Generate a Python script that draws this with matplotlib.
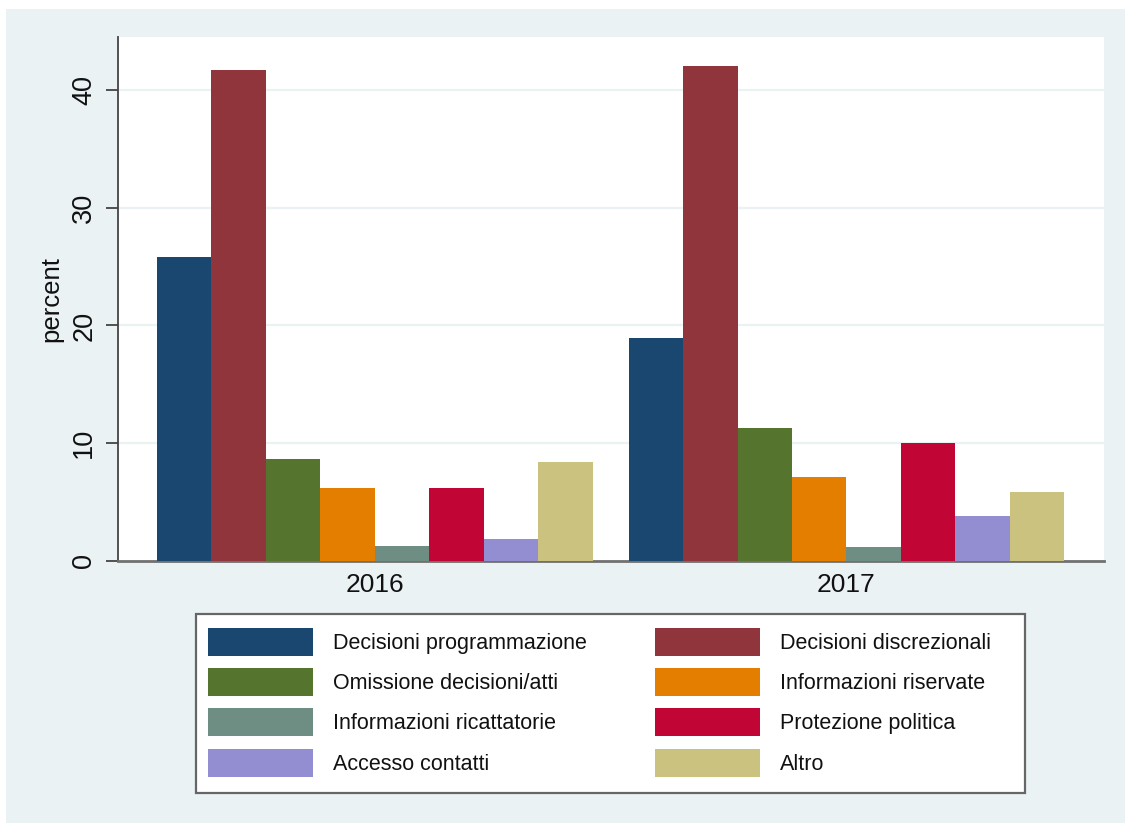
import matplotlib
matplotlib.use("Agg")
import matplotlib.pyplot as plt
from matplotlib.patches import Patch, Rectangle
import numpy as np

plt.rcParams['font.family'] = ['Liberation Sans', 'DejaVu Sans']

years = ["2016", "2017"]
categories = [
    "Decisioni programmazione", "Decisioni discrezionali",
    "Omissione decisioni/atti", "Informazioni riservate",
    "Informazioni ricattatorie", "Protezione politica",
    "Accesso contatti", "Altro",
]
values_2016 = [25.8, 41.7, 8.7, 6.2, 1.3, 6.2, 1.9, 8.4]
values_2017 = [18.9, 42.0, 11.3, 7.1, 1.2, 10.0, 3.8, 5.9]
colors = ["#1A476F", "#90353B", "#55752F", "#E37E00",
          "#6E8E84", "#C10534", "#938DD2", "#CAC27E"]
yticks = [0, 10, 20, 30, 40]

W, H = 1125, 823
fig = plt.figure(figsize=(W / 100, H / 100), dpi=100, facecolor="white")
bg = "#EAF2F3"
fig.patches.append(Rectangle((6 / W, 0), 1, 1 - 9 / H, transform=fig.transFigure,
                             facecolor=bg, edgecolor="none", zorder=-10))

ax = fig.add_axes([118 / W, 1 - 561 / H, (1104 - 118) / W, (561 - 37) / H])
ax.set_facecolor("white")

n = len(categories)
group_offset = 8.66
for gi, vals in enumerate([values_2016, values_2017]):
    xs = np.arange(n) + gi * group_offset
    ax.bar(xs, vals, width=1.0, color=colors, edgecolor="none", zorder=3)

ax.set_xlim(-1.216, 16.89)
ax.set_ylim(0, 44.5)
ax.set_xticks([(n - 1) / 2 + gi * group_offset for gi in range(len(years))])
ax.set_xticklabels(years, fontsize=19)
ax.tick_params(axis="x", length=0, pad=9, colors="#111111")
ax.set_yticks(yticks)
ax.set_yticklabels([str(t) for t in yticks], fontsize=19.5, rotation=90, va="center")
ax.tick_params(axis="y", length=9, width=1.3, pad=6, color="#444444", labelcolor="#111111")
ax.set_ylabel("percent", fontsize=18.5, labelpad=6, color="#111111")

for y in yticks[1:]:
    ax.axhline(y, color=bg, linewidth=1.6, zorder=1)

for s in ["top", "right"]:
    ax.spines[s].set_visible(False)
ax.spines["left"].set_color("#444444")
ax.spines["left"].set_linewidth(1.3)
ax.spines["bottom"].set_color("#707070")
ax.spines["bottom"].set_linewidth(2.0)

# legend frame
lx0, ly0, lx1, ly1 = 196, 614, 1025, 793
fig.patches.append(Rectangle((lx0 / W, 1 - ly1 / H), (lx1 - lx0) / W, (ly1 - ly0) / H,
                             transform=fig.transFigure, facecolor="white",
                             edgecolor="#666666", linewidth=1.6, zorder=0))

# row-major order for a 2-column legend
order = [0, 2, 4, 6, 1, 3, 5, 7]
handles = [Patch(facecolor=colors[i], edgecolor="none") for i in order]
labels = [categories[i] for i in order]
fs = 15.5
em = fs / 0.72
leg = fig.legend(handles, labels, ncol=2, frameon=False,
                 loc="upper left", bbox_to_anchor=(208 / W, 1 - 628 / H),
                 fontsize=fs, handlelength=105 / em, handleheight=1.62,
                 handletextpad=20 / em, labelspacing=0.57, columnspacing=68 / em,
                 borderpad=0, borderaxespad=0)
for t in leg.get_texts():
    t.set_color("#111111")

fig.savefig("out.png", dpi=100, facecolor="white")
